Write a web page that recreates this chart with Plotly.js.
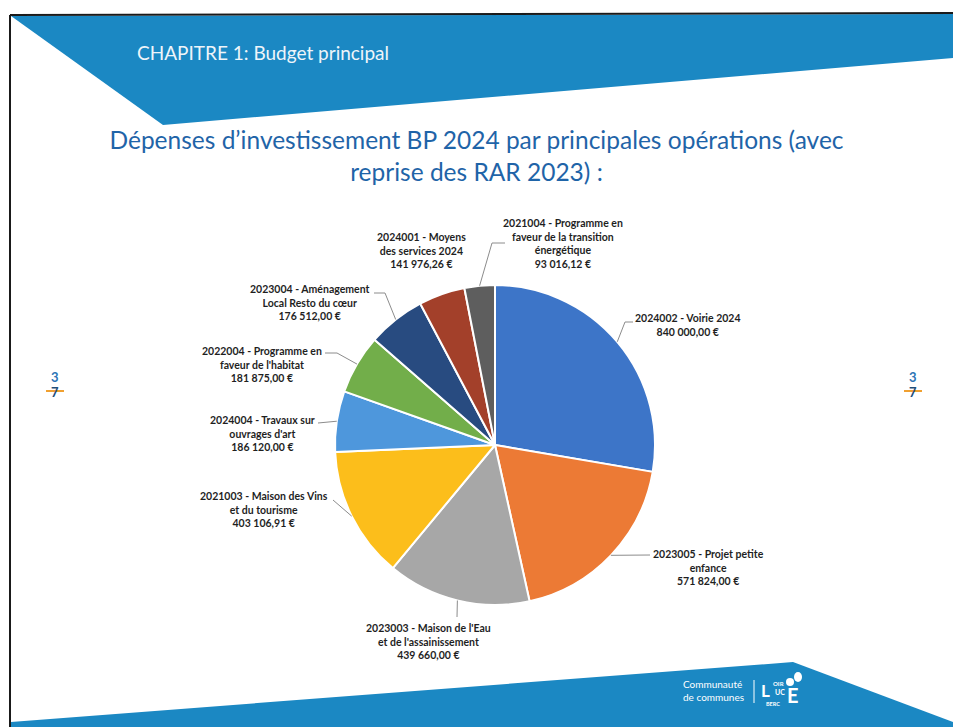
<!DOCTYPE html>
<html><head><meta charset="utf-8">
<script src="https://cdn.plot.ly/plotly-3.0.1.min.js"></script>
<style>html,body{margin:0;padding:0;background:#fff;}#chart{width:953px;height:727px;}</style>
</head><body><div id="chart"></div>
<script>
// ---- data ----
const codes = ["2024002","2023005","2023003","2021003","2024004","2022004","2023004","2024001","2021004"];
const names = ["Voirie 2024","Projet petite<br>enfance","Maison de l'Eau<br>et de l'assainissement","Maison des Vins<br>et du tourisme","Travaux sur<br>ouvrages d'art","Programme en<br>faveur de l'habitat","Aménagement<br>Local Resto du cœur","Moyens<br>des services 2024","Programme en<br>faveur de la transition<br>énergétique"];
const values = [840000, 571824, 439660, 403106.91, 186120, 181875, 176512, 141976.26, 93016.12];
const colors = ["#3D75C8","#EC7A35","#A7A7A7","#FCBE1B","#4E97DC","#72AE4A","#284B80","#A3402A","#5E5E5E"];

// ---- layout helpers ----
const W = 953, H = 727;
const X = px => px / W, Y = py => 1 - py / H;
const cx = 495, cy = 445, r = 160;

// label block centres and leader bends (page pixels)
const labelPos = [[688,325],[708,567],[428,641],[264,509],[262,433],[262,364],[310,302],[421,250],[563,244]];
const leaderBends = [
  [[625,322],[633,322]],
  [[650,555]],
  [[457,617]],
  [[333,500]],
  [[318,423]],
  [[337,353],[325,353]],
  [[385,293],[374,293]],
  null,
  [[492,243],[505,243]]
];

function fmt(v){
  const p = v.toFixed(2).split('.');
  return p[0].replace(/\B(?=(\d{3})+(?!\d))/g, ' ') + ',' + p[1] + ' €';
}

const total = values.reduce((a,b)=>a+b,0);
let cum = 0;
const shapes = [];
const annotations = [];

// background decoration
shapes.push({type:'path', xref:'paper', yref:'paper', layer:'below',
  path:`M${X(11)},${Y(16)} L${X(953)},${Y(14)} L${X(953)},${Y(58)} L${X(163)},${Y(125)} Z`,
  fillcolor:'#1B88C3', line:{width:0}});
shapes.push({type:'path', xref:'paper', yref:'paper', layer:'below',
  path:`M${X(11)},${Y(727)} L${X(11)},${Y(722)} L${X(793)},${Y(662)} L${X(953)},${Y(722)} L${X(953)},${Y(727)} Z`,
  fillcolor:'#1B88C3', line:{width:0}});
shapes.push({type:'line', xref:'paper', yref:'paper', x0:X(10), y0:Y(15), x1:X(953), y1:Y(13), line:{color:'#1a1a1a', width:2}});
shapes.push({type:'line', xref:'paper', yref:'paper', x0:X(10), y0:Y(15), x1:X(10), y1:Y(727), line:{color:'#1a1a1a', width:2}});
// side page marks strike lines
shapes.push({type:'line', xref:'paper', yref:'paper', x0:X(46), y0:Y(391), x1:X(64), y1:Y(391), line:{color:'#F0A030', width:2}});
shapes.push({type:'line', xref:'paper', yref:'paper', x0:X(904), y0:Y(391), x1:X(922), y1:Y(391), line:{color:'#F0A030', width:2}});
// logo separator
shapes.push({type:'line', xref:'paper', yref:'paper', x0:X(754), y0:Y(680), x1:X(754), y1:Y(703), line:{color:'#ffffff', width:1}});

values.forEach((v,i)=>{
  const mid = (cum + v/2) / total * 2 * Math.PI;
  cum += v;
  const sx = cx + r*Math.sin(mid), sy = cy - r*Math.cos(mid);
  if (leaderBends[i]) {
    let d = `M${X(sx)},${Y(sy)}`;
    leaderBends[i].forEach(p=>{ d += ` L${X(p[0])},${Y(p[1])}`; });
    shapes.push({type:'path', xref:'paper', yref:'paper', path:d, line:{color:'#8C8C8C', width:1}});
  }
  annotations.push({xref:'paper', yref:'paper', x:X(labelPos[i][0]), y:Y(labelPos[i][1]),
    xanchor:'center', yanchor:'middle', align:'center', showarrow:false,
    text:'<b>' + codes[i] + ' - ' + names[i] + '<br>' + fmt(v) + '</b>',
    font:{family:'Lato, sans-serif', size:10.5, color:'#1f1f1f'}});
});

// header / page texts
annotations.push({xref:'paper', yref:'paper', x:X(135), y:Y(52), xanchor:'left', yanchor:'middle', showarrow:false,
  text:'CHAPITRE 1: Budget principal', font:{family:'Lato, sans-serif', size:19, color:'#EEF5FA'}});
[[55,'3','#2E75B6',377],[55,'7','#1F4E79',392],[913,'3','#2E75B6',377],[913,'7','#1F4E79',392]].forEach(m=>{
  annotations.push({xref:'paper', yref:'paper', x:X(m[0]), y:Y(m[3]), xanchor:'center', yanchor:'middle', showarrow:false,
    text:'<b>'+m[1]+'</b>', font:{family:'Lato, sans-serif', size:13, color:m[2]}});
});
// logo
annotations.push({xref:'paper', yref:'paper', x:X(746), y:Y(690), xanchor:'right', yanchor:'middle', showarrow:false, align:'left',
  text:'Communauté<br>de communes', font:{family:'Lato, sans-serif', size:10, color:'#ffffff'}});
annotations.push({xref:'paper', yref:'paper', x:X(765), y:Y(690), xanchor:'center', yanchor:'middle', showarrow:false,
  text:'<b>L</b>', font:{family:'Lato, sans-serif', size:17, color:'#ffffff'}});
annotations.push({xref:'paper', yref:'paper', x:X(778), y:Y(683), xanchor:'center', yanchor:'middle', showarrow:false,
  text:'<b>OIR</b>', font:{family:'Lato, sans-serif', size:6, color:'#ffffff'}});
annotations.push({xref:'paper', yref:'paper', x:X(780), y:Y(692), xanchor:'center', yanchor:'middle', showarrow:false,
  text:'<b>UC</b>', font:{family:'Lato, sans-serif', size:7, color:'#ffffff'}});
annotations.push({xref:'paper', yref:'paper', x:X(773), y:Y(704), xanchor:'center', yanchor:'middle', showarrow:false,
  text:'<b>BERC</b>', font:{family:'Lato, sans-serif', size:5.5, color:'#ffffff'}});
annotations.push({xref:'paper', yref:'paper', x:X(793), y:Y(695), xanchor:'center', yanchor:'middle', showarrow:false,
  text:'<b>E</b>', font:{family:'Lato, sans-serif', size:20, color:'#ffffff'}});
shapes.push({type:'circle', xref:'paper', yref:'paper', x0:X(786), y0:Y(678), x1:X(794), y1:Y(686), fillcolor:'#ffffff', line:{width:0}});
shapes.push({type:'circle', xref:'paper', yref:'paper', x0:X(794), y0:Y(672), x1:X(802), y1:Y(682), fillcolor:'#ffffff', line:{width:0}});

const trace = {
  type:'pie', values:values, labels:codes, sort:false, direction:'clockwise', rotation:0,
  marker:{colors:colors, line:{color:'#ffffff', width:2}},
  textinfo:'none', hoverinfo:'skip', showlegend:false, automargin:false,
  domain:{x:[X(cx-r), X(cx+r)], y:[Y(cy+r), Y(cy-r)]}
};

const layout = {
  width:W, height:H, margin:{l:0,r:0,t:0,b:0},
  paper_bgcolor:'#ffffff', plot_bgcolor:'#ffffff',
  title:{text:"Dépenses d’investissement BP 2024 par principales opérations (avec<br>reprise des RAR 2023) :",
    x:0.5, xanchor:'center', y:Y(149), yanchor:'middle', yref:'paper',
    font:{family:'Lato, sans-serif', size:24.5, color:'#1F64A8'}},
  shapes:shapes, annotations:annotations, showlegend:false
};

Plotly.newPlot('chart', [trace], layout, {displayModeBar:false, staticPlot:true});
</script></body></html>
